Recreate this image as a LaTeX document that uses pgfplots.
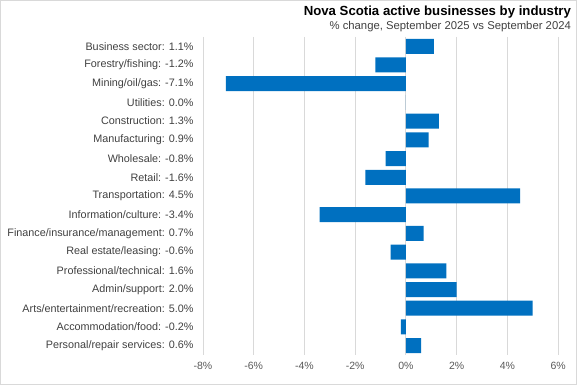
\documentclass[border=0pt]{standalone}
\usepackage{pgfplots}
\pgfplotsset{compat=1.18}
\usepackage{fontspec}
\setmainfont{Liberation Sans}
\definecolor{barblue}{RGB}{0,112,192}
\definecolor{gridc}{RGB}{217,217,217}
\definecolor{labc}{RGB}{64,64,64}
\definecolor{tickc}{RGB}{89,89,89}
\begin{document}
\begin{tikzpicture}
\draw[gridc,line width=0.8pt] (0.5pt,0.5pt) rectangle (576.5pt,384.5pt);
\node[anchor=north east,font=\bfseries\fontsize{13.2}{15}\selectfont,inner sep=0pt] at (571pt,379.5pt) {Nova Scotia active businesses by industry};
\node[anchor=north east,font=\fontsize{11.3}{13}\selectfont,text=labc,inner sep=0pt] at (571pt,364pt) {\% change, September 2025 vs September 2024};
\begin{axis}[
  at={(203pt,30pt)}, anchor=south west,
  scale only axis, width=355pt, height=318pt,
  xbar, bar width=15pt,
  xmin=-8, xmax=6,
  ymin=-0.5, ymax=16.5, y dir=reverse,
  xtick={-8,-6,...,6},
  xticklabel={\pgfmathprintnumber{\tick}\%},
  /pgf/number format/assume math mode=true,
  ytick={0,...,16},
  yticklabels={Business sector: 1.1\%, Forestry/fishing: -1.2\%, Mining/oil/gas: -7.1\%, Utilities: 0.0\%, Construction: 1.3\%, Manufacturing: 0.9\%, Wholesale: -0.8\%, Retail: -1.6\%, Transportation: 4.5\%, Information/culture: -3.4\%, Finance/insurance/management: 0.7\%, Real estate/leasing: -0.6\%, Professional/technical: 1.6\%, Admin/support: 2.0\%, Arts/entertainment/recreation: 5.0\%, Accommodation/food: -0.2\%, Personal/repair services: 0.6\%},
  axis line style={draw=none},
  major tick length=0pt,
  xmajorgrids, grid style={gridc, line width=0.8pt},
  ymajorgrids=false,
  yticklabel style={font=\fontsize{10.8}{12}\selectfont, text=labc, anchor=east, xshift=-6pt},
  xticklabel style={font=\fontsize{10.5}{12}\selectfont, text=tickc, yshift=-4pt},
  clip=false,
]
\addplot[fill=barblue, draw=none] coordinates {
(1.1,0) (-1.2,1) (-7.1,2) (0.0,3) (1.3,4) (0.9,5) (-0.8,6) (-1.6,7) (4.5,8) (-3.4,9) (0.7,10) (-0.6,11) (1.6,12) (2.0,13) (5.0,14) (-0.2,15) (0.6,16)
};
\end{axis}
\end{tikzpicture}
\end{document}
